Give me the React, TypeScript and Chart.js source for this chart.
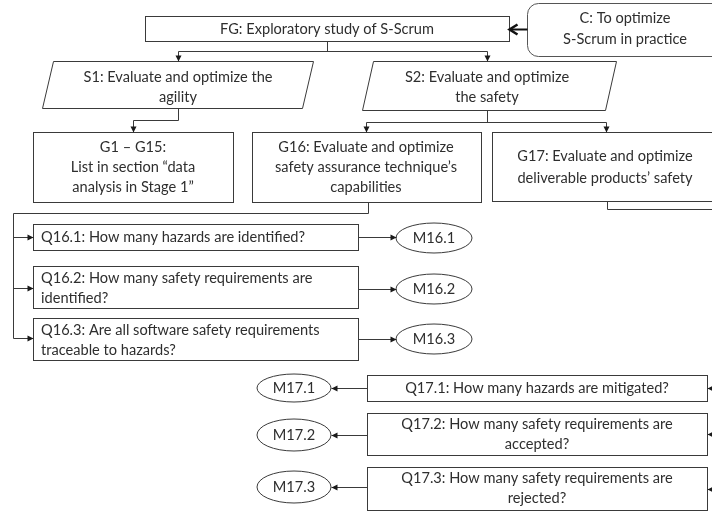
import { useEffect, useRef } from "react";
import { Chart, registerables } from "chart.js";

Chart.register(...registerables);

// ---- Diagram data (coordinates in diagram units: x 0..712, y 0..516 top-down) ----
const rectNodes = [
  { id: "FG", x0: 145, x1: 509, y0: 16, y1: 41, lines: ["FG: Exploratory study of S-Scrum"], align: "center", tx: 327, ty: [29] },
  { id: "G1", x0: 33, x1: 233, y0: 132, y1: 202, lines: ["G1 \u2013 G15:", "List in section \u201cdata", "analysis in Stage 1\u201d"], align: "center", tx: 133, ty: [147, 167, 187] },
  { id: "G16", x0: 252, x1: 481, y0: 132, y1: 202, lines: ["G16: Evaluate and optimize", "safety assurance technique\u2019s", "capabilities"], align: "center", tx: 366, ty: [147, 167, 187] },
  { id: "G17", x0: 492, x1: 724, y0: 132, y1: 201, lines: ["G17: Evaluate and optimize", "deliverable products\u2019 safety"], align: "center", tx: 605, ty: [156, 178] },
  { id: "Q16.1", x0: 33, x1: 358, y0: 224, y1: 250, lines: ["Q16.1: How many hazards are identified?"], align: "left", tx: 41, ty: [237] },
  { id: "Q16.2", x0: 33, x1: 358, y0: 266, y1: 308, lines: ["Q16.2: How many safety requirements are", "identified?"], align: "left", tx: 41, ty: [278, 298] },
  { id: "Q16.3", x0: 33, x1: 358, y0: 318, y1: 360, lines: ["Q16.3: Are all software safety requirements", "traceable to hazards?"], align: "left", tx: 41, ty: [330, 350] },
  { id: "Q17.1", x0: 367, x1: 707, y0: 375, y1: 401, lines: ["Q17.1: How many hazards are mitigated?"], align: "center", tx: 537, ty: [388] },
  { id: "Q17.2", x0: 367, x1: 707, y0: 413, y1: 455, lines: ["Q17.2: How many safety requirements are", "accepted?"], align: "center", tx: 537, ty: [424, 444] },
  { id: "Q17.3", x0: 367, x1: 707, y0: 467, y1: 510, lines: ["Q17.3: How many safety requirements are", "rejected?"], align: "center", tx: 537, ty: [478, 498] },
];

const roundNodes = [
  { id: "C", x0: 527, x1: 740, y0: 3, y1: 56, r: 11, lines: ["C: To optimize", "S-Scrum in practice"], tx: 625, ty: [18, 39] },
];

const paraNodes = [
  { id: "S1", pts: [[53, 61], [313, 61], [302, 108], [42, 108]], lines: ["S1: Evaluate and optimize the", "agility"], tx: 178, ty: [77, 97] },
  { id: "S2", pts: [[373, 61], [616, 61], [605, 110], [362, 110]], lines: ["S2: Evaluate and optimize", "the safety"], tx: 487, ty: [77, 97] },
];

const ellipseNodes = [
  { id: "M16.1", cx: 434, cy: 238, rx: 38, ry: 15 },
  { id: "M16.2", cx: 434, cy: 289, rx: 38, ry: 15 },
  { id: "M16.3", cx: 434, cy: 339, rx: 38, ry: 15 },
  { id: "M17.1", cx: 294, cy: 388, rx: 37, ry: 14 },
  { id: "M17.2", cx: 294, cy: 435, rx: 37, ry: 16 },
  { id: "M17.3", cx: 294, cy: 487, rx: 37, ry: 16 },
];

const connectors: { pts: number[][]; arrow: boolean; bold?: boolean }[] = [
  { pts: [[527, 29], [509, 29]], arrow: true, bold: true },
  { pts: [[327, 41], [327, 51]], arrow: false },
  { pts: [[178, 51], [487, 51]], arrow: false },
  { pts: [[178, 51], [178, 61]], arrow: true },
  { pts: [[487, 51], [487, 61]], arrow: true },
  { pts: [[178, 108], [178, 120], [133, 120], [133, 132]], arrow: true },
  { pts: [[487, 110], [487, 122]], arrow: false },
  { pts: [[366, 122], [606, 122]], arrow: false },
  { pts: [[366, 122], [366, 132]], arrow: true },
  { pts: [[606, 122], [606, 132]], arrow: true },
  { pts: [[368, 202], [368, 213], [13, 213], [13, 338]], arrow: false },
  { pts: [[13, 237], [33, 237]], arrow: true },
  { pts: [[13, 288], [33, 288]], arrow: true },
  { pts: [[13, 338], [33, 338]], arrow: true },
  { pts: [[358, 237], [396, 237]], arrow: true },
  { pts: [[358, 289], [396, 289]], arrow: true },
  { pts: [[358, 339], [396, 339]], arrow: true },
  { pts: [[607, 201], [607, 209], [724, 209]], arrow: false },
  { pts: [[724, 388], [707, 388]], arrow: true },
  { pts: [[724, 434], [707, 434]], arrow: true },
  { pts: [[724, 489], [707, 489]], arrow: true },
  { pts: [[367, 388], [331, 388]], arrow: true },
  { pts: [[367, 435], [331, 435]], arrow: true },
  { pts: [[367, 487], [331, 487]], arrow: true },
];

const FONT = "14.6px Lato, 'Open Sans', sans-serif";
const INK = "#2e2e2e";
const LINE = "#3a3a3a";

const diagramPlugin = {
  id: "diagram",
  afterDatasetsDraw(chart: any) {
    const ctx: CanvasRenderingContext2D = chart.ctx;
    const xs = chart.scales.x;
    const ys = chart.scales.y;
    const px = (v: number) => Math.round(xs.getPixelForValue(v)) + 0.5;
    const py = (v: number) => Math.round(ys.getPixelForValue(v)) + 0.5;
    ctx.save();
    ctx.lineWidth = 1;
    ctx.strokeStyle = LINE;
    ctx.fillStyle = "#ffffff";

    const drawText = (lines: string[], tx: number, ty: number[], align: CanvasTextAlign) => {
      ctx.fillStyle = INK;
      ctx.font = FONT;
      ctx.textAlign = align;
      ctx.textBaseline = "middle";
      lines.forEach((t, i) => ctx.fillText(t, xs.getPixelForValue(tx), ys.getPixelForValue(ty[i])));
    };

    roundNodes.forEach((n) => {
      const x0 = px(n.x0), x1 = px(n.x1), y0 = py(n.y0), y1 = py(n.y1), r = n.r;
      ctx.beginPath();
      ctx.moveTo(x0 + r, y0);
      ctx.lineTo(x1 - r, y0);
      ctx.arcTo(x1, y0, x1, y0 + r, r);
      ctx.lineTo(x1, y1 - r);
      ctx.arcTo(x1, y1, x1 - r, y1, r);
      ctx.lineTo(x0 + r, y1);
      ctx.arcTo(x0, y1, x0, y1 - r, r);
      ctx.lineTo(x0, y0 + r);
      ctx.arcTo(x0, y0, x0 + r, y0, r);
      ctx.closePath();
      ctx.strokeStyle = "#555555";
      ctx.lineWidth = 1;
      ctx.stroke();
      drawText(n.lines, n.tx, n.ty, "center");
    });

    rectNodes.forEach((n) => {
      const x0 = px(n.x0), x1 = px(n.x1), y0 = py(n.y0), y1 = py(n.y1);
      ctx.strokeStyle = LINE;
      ctx.lineWidth = 1;
      ctx.strokeRect(x0, y0, x1 - x0, y1 - y0);
      drawText(n.lines, n.tx, n.ty, n.align as CanvasTextAlign);
    });

    paraNodes.forEach((n) => {
      ctx.beginPath();
      n.pts.forEach((p, i) => (i ? ctx.lineTo(px(p[0]), py(p[1])) : ctx.moveTo(px(p[0]), py(p[1]))));
      ctx.closePath();
      ctx.strokeStyle = LINE;
      ctx.lineWidth = 1;
      ctx.stroke();
      drawText(n.lines, n.tx, n.ty, "center");
    });

    ellipseNodes.forEach((n) => {
      const cx = xs.getPixelForValue(n.cx), cy = ys.getPixelForValue(n.cy);
      ctx.beginPath();
      ctx.ellipse(cx, cy, Math.abs(xs.getPixelForValue(n.cx + n.rx) - cx), Math.abs(ys.getPixelForValue(n.cy + n.ry) - cy), 0, 0, Math.PI * 2);
      ctx.strokeStyle = LINE;
      ctx.lineWidth = 1;
      ctx.stroke();
      drawText([n.id], n.cx, [n.cy], "center");
    });

    connectors.forEach((c) => {
      const pts = c.pts.map((p) => [px(p[0]), py(p[1])]);
      ctx.strokeStyle = c.bold ? "#111111" : LINE;
      ctx.lineWidth = c.bold ? 2 : 1;
      ctx.beginPath();
      pts.forEach((p, i) => (i ? ctx.lineTo(p[0], p[1]) : ctx.moveTo(p[0], p[1])));
      ctx.stroke();
      if (c.arrow) {
        const a = pts[pts.length - 1];
        const b = pts[pts.length - 2];
        const ang = Math.atan2(a[1] - b[1], a[0] - b[0]);
        if (c.bold) {
          const L = 8, W = 5;
          ctx.beginPath();
          ctx.moveTo(a[0] - L * Math.cos(ang) - W * Math.sin(ang), a[1] - L * Math.sin(ang) + W * Math.cos(ang));
          ctx.lineTo(a[0], a[1]);
          ctx.lineTo(a[0] - L * Math.cos(ang) + W * Math.sin(ang), a[1] - L * Math.sin(ang) - W * Math.cos(ang));
          ctx.lineWidth = 2.5;
          ctx.stroke();
        } else {
          const L = 6, W = 3;
          ctx.fillStyle = "#1a1a1a";
          ctx.beginPath();
          ctx.moveTo(a[0], a[1]);
          ctx.lineTo(a[0] - L * Math.cos(ang) - W * Math.sin(ang), a[1] - L * Math.sin(ang) + W * Math.cos(ang));
          ctx.lineTo(a[0] - L * Math.cos(ang) + W * Math.sin(ang), a[1] - L * Math.sin(ang) - W * Math.cos(ang));
          ctx.closePath();
          ctx.fill();
        }
      }
    });
    ctx.restore();
  },
};

export default function App() {
  const ref = useRef<HTMLCanvasElement | null>(null);
  useEffect(() => {
    document.body.style.margin = "0";
    const centers = [
      ...rectNodes.map((n) => ({ x: (n.x0 + n.x1) / 2, y: (n.y0 + n.y1) / 2 })),
      ...ellipseNodes.map((n) => ({ x: n.cx, y: n.cy })),
    ];
    const chart = new Chart(ref.current as HTMLCanvasElement, {
      type: "scatter",
      data: { datasets: [{ data: centers, pointRadius: 0, pointHoverRadius: 0 }] },
      options: {
        animation: false,
        responsive: false,
        devicePixelRatio: 1,
        layout: { padding: 0 },
        plugins: { legend: { display: false }, tooltip: { enabled: false } },
        events: [],
        scales: {
          x: { type: "linear", min: 0, max: 712, display: false },
          y: { type: "linear", min: 0, max: 516, reverse: true, display: false },
        },
      },
      plugins: [diagramPlugin],
    });
    if ((document as any).fonts) {
      (document as any).fonts.load(FONT).then(() => chart.update()).catch(() => {});
    }
    return () => chart.destroy();
  }, []);
  return (
    <div style={{ position: "absolute", left: 0, top: 0, width: 712, height: 516, background: "#fff" }}>
      <canvas ref={ref} width={712} height={516} style={{ width: 712, height: 516 }} />
    </div>
  );
}
